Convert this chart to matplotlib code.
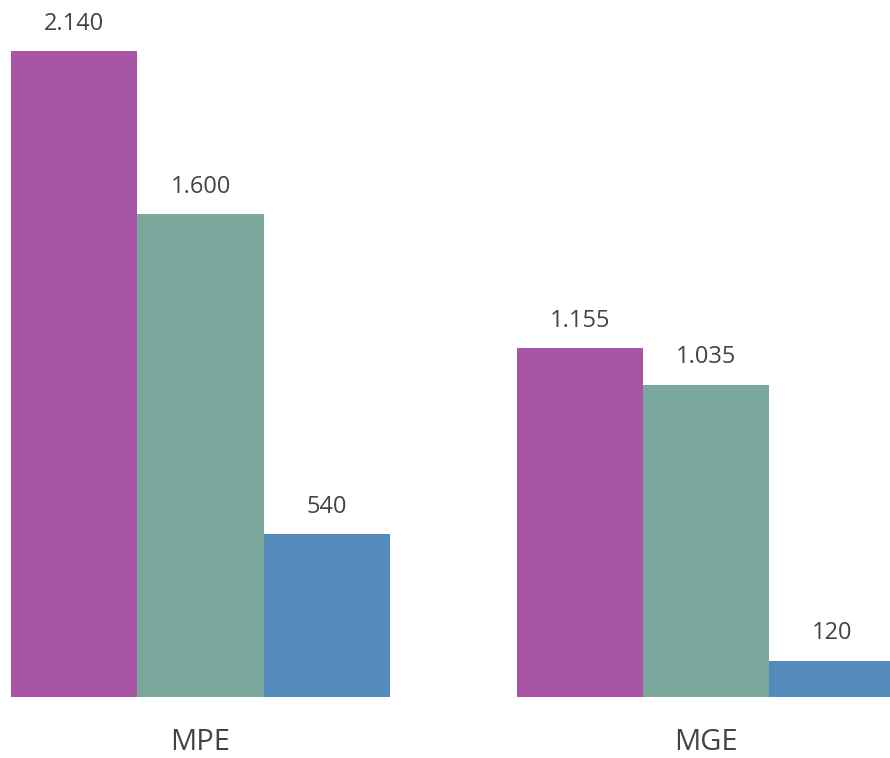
import matplotlib.pyplot as plt
import numpy as np

# Chart data
groups = ["MPE", "MGE"]
series_a = [2140, 1155]
series_b = [1600, 1035]
series_c = [540, 120]

colors = ["#a855a8", "#7ba89c", "#558bba"]
text_color = "#444444"

plt.rcParams['font.family'] = ['Open Sans', 'DejaVu Sans']

fig = plt.figure(figsize=(8.9, 7.58), dpi=100)
W, H = 890, 758
# axes spans full width; baseline at y=697, top (2140) at y=51
ax = fig.add_axes([0, (H - 697) / H, 1, (697 - 51) / H])

x = np.arange(len(groups))
width = 0.25
px = 506.0  # pixels per group unit
ax.set_xlim(-0.375 - 11 / px, 1 + (890 - 706) / px)
ax.set_ylim(0, 2140)

def fmt(v):
    return f"{v:,}".replace(",", ".")

for i, (vals, c) in enumerate(zip([series_a, series_b, series_c], colors)):
    pos = x + (i - 1) * width
    bars = ax.bar(pos, vals, width, color=c, linewidth=0)
    for b, v in zip(bars, vals):
        ax.annotate(fmt(v), (b.get_x() + b.get_width() / 2, v),
                    xytext=(0, 11), textcoords="offset points",
                    ha="center", va="bottom", fontsize=17,
                    color=text_color, annotation_clip=False)

ax.set_xticks(x)
ax.set_xticklabels(groups, fontsize=21, color=text_color)
ax.tick_params(axis="x", length=0, pad=22)
ax.set_yticks([])
for s in ax.spines.values():
    s.set_visible(False)

fig.savefig("out.png", dpi=100)
